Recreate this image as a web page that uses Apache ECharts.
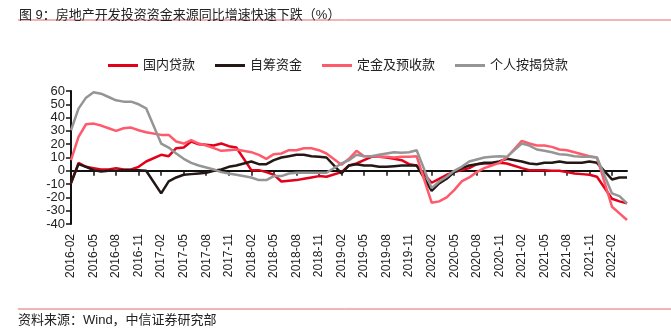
<!DOCTYPE html>
<html>
<head>
<meta charset="utf-8">
<script src="https://cdn.jsdelivr.net/npm/echarts@6/dist/echarts.min.js"></script>
<style>
html,body{margin:0;padding:0;background:#fff;}
#chart{width:671px;height:331px;}
</style>
</head>
<body>
<div id="chart"></div>
<script>
var categories = [
'2016-02','2016-03','2016-04','2016-05','2016-06','2016-07','2016-08','2016-09','2016-10','2016-11','2016-12',
'2017-01','2017-02','2017-03','2017-04','2017-05','2017-06','2017-07','2017-08','2017-09','2017-10','2017-11','2017-12',
'2018-01','2018-02','2018-03','2018-04','2018-05','2018-06','2018-07','2018-08','2018-09','2018-10','2018-11','2018-12',
'2019-01','2019-02','2019-03','2019-04','2019-05','2019-06','2019-07','2019-08','2019-09','2019-10','2019-11','2019-12',
'2020-01','2020-02','2020-03','2020-04','2020-05','2020-06','2020-07','2020-08','2020-09','2020-10','2020-11','2020-12',
'2021-01','2021-02','2021-03','2021-04','2021-05','2021-06','2021-07','2021-08','2021-09','2021-10','2021-11','2021-12',
'2022-01','2022-02','2022-03','2022-04'
];
var seriesNames = ['国内贷款','自筹资金','定金及预收款','个人按揭贷款'];
var domesticLoans = [
-9.5,6,3,2,1,1,2,1,1,3,7,
null,12,11,17,17.5,22,20,19.5,19,20.5,18.5,17.5,
null,0.5,0.5,-1,-3,-8,-7.5,-7,-6,-5,-4,-4.5,
null,-1,4,5.5,8,10.5,10.5,10,9,8,5,4,
null,-9,-6,-3,-1,0.5,2,5,5.5,5.5,6,5.5,
null,2,0.5,0.5,0.5,0,0,-1,-2,-2.5,-3,-4.5,
null,-21,-23,-24.5
];
var selfRaised = [
-9,5,3,0.5,-0.5,0,0,0.5,0.5,0.5,0,
null,-17,-8,-5,-3,-2.5,-2,-1.5,0,1,3,4,
null,7,5,5,8,10,11,12,12,11,10.5,10,
null,-2,4,5,4,4,3,3,3.5,4,4,4,
null,-15,-9.5,-6,-1,2,4,5,6,6,7,9,
null,7,5.5,5,6,6,7,6,6,6,7,6,
null,-6.5,-5,-5
];
var depositsAdvances = [
8,25.5,35,35.5,34,32,30,32,32.5,30.5,29,
null,27,27,22,20.5,23,20.5,19,17,15,15.5,16,
null,14,12,9,12.5,13,15.5,15.5,17,17,15.5,13,
null,4.5,9,15,11,11,10.5,10.5,10,10.5,10.5,11,
null,-24,-23,-20,-14.5,-8,-5,-1,2,4,6,10,
null,22.5,20.5,19,19,18,16,15.5,14,12.5,11,10,
null,-27,-32,-37
];
var mortgageLoans = [
30.5,46.75,55,59,58,55.5,53,52,52,50,47,
null,20.5,17.5,13,9,6,4,2.5,1,-1,-2,-3,
null,-5,-7,-7,-4,-4,-2,-1.5,-1.5,-1.5,-1.5,-1.5,
null,5.5,8,12,11,11,12,13,14,13.5,14,15.5,
null,-13,-8,-4.5,0,3,7,8.5,10,10.5,11,10.5,
null,20.5,19,16,15,14,12.5,12,11,10.5,10.5,10,
null,-17,-19,-24.5
];
var yTicks = [-40,-30,-20,-10,0,10,20,30,40,50,60];

var FONT = '"Liberation Sans", Arial, "Noto Sans CJK SC", sans-serif';
var colors = ['#e2001a','#231815','#ff5a6b','#959595'];
var dataSets = [domesticLoans, selfRaised, depositsAdvances, mortgageLoans];

var chart = echarts.init(document.getElementById('chart'));
chart.setOption({
  animation:false,
  backgroundColor:'#fff',
  color: colors,
  title:{
    text:'图 9：房地产开发投资资金来源同比增速快速下跌（%）',
    left:14, top:4,
    textStyle:{fontFamily:FONT, fontSize:13, fontWeight:'normal', color:'#222'}
  },
  graphic:[
    {type:'line', shape:{x1:18,y1:20,x2:671,y2:20}, style:{stroke:'#e06a6e', lineWidth:1}},
    {type:'line', shape:{x1:18,y1:309,x2:671,y2:309}, style:{stroke:'#e06a6e', lineWidth:1}},
    {type:'text', left:18, top:314, style:{text:'资料来源：Wind，中信证券研究部', font:'13px ' + FONT, fill:'#222'}}
  ],
  legend:{
    left:103, top:54,
    itemWidth:30, itemHeight:3, itemGap:20,
    icon:'rect',
    textStyle:{fontFamily:FONT, fontSize:13, color:'#222'},
    data: seriesNames
  },
  grid:{left:71, right:44, top:91, bottom:107, containLabel:false},
  xAxis:[
    {
      type:'category', data:categories, boundaryGap:false, position:'bottom',
      axisLine:{show:false, onZero:false}, axisTick:{show:false}, splitLine:{show:false},
      axisLabel:{rotate:90, interval:2, margin:10, fontFamily:FONT, fontSize:12, color:'#222'}
    },
    {
      type:'category', data:categories, boundaryGap:false, position:'bottom',
      axisLine:{show:true, onZero:true, lineStyle:{color:'#111', width:2}},
      axisTick:{show:true, interval:2, length:5, inside:false, lineStyle:{color:'#111', width:1.5}},
      axisLabel:{show:false}, splitLine:{show:false}
    }
  ],
  yAxis:{
    type:'value', min:-40, max:60, interval:10,
    axisLine:{show:true, lineStyle:{color:'#111', width:2}},
    axisTick:{show:true, length:5, lineStyle:{color:'#111', width:1.5}},
    splitLine:{show:false},
    axisLabel:{margin:6, fontFamily:FONT, fontSize:13, color:'#222',
      formatter:function(v){ return yTicks.indexOf(v) >= 0 ? String(v) : ''; }}
  },
  series: seriesNames.map(function(name, k){
    return {
      name:name, type:'line', data:dataSets[k], xAxisIndex:0,
      connectNulls:true, showSymbol:false, symbol:'none',
      lineStyle:{width:2.5, color:colors[k]},
      itemStyle:{color:colors[k]}
    };
  })
});
</script>
</body>
</html>
